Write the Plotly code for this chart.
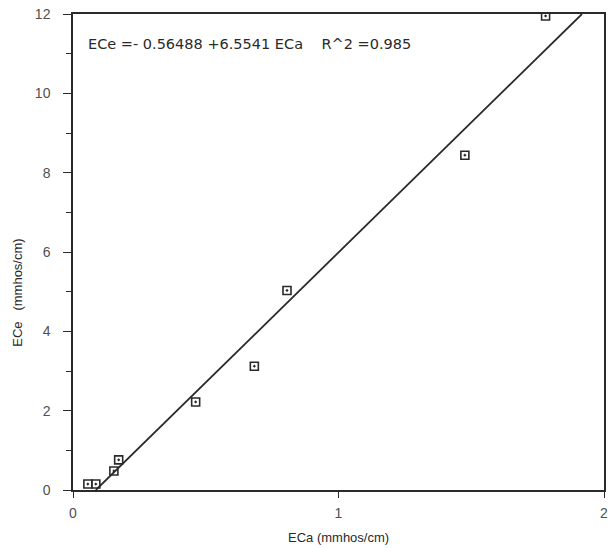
import plotly.graph_objects as go

# Data
eca = [0.056, 0.086, 0.154, 0.172, 0.462, 0.683, 0.806, 1.476, 1.78]
ece = [0.15, 0.15, 0.48, 0.76, 2.22, 3.12, 5.03, 8.44, 11.95]

# Regression coefficients shown in the chart
intercept = -0.56488
slope = 6.5541
r2 = 0.985
y_line_range = [0, 12]

x_ticks = [0, 1, 2]
y_ticks = [0, 2, 4, 6, 8, 10, 12]
y_minor = [1, 3, 5, 7, 9, 11]

x_line = [(y - intercept) / slope for y in y_line_range]
y_line = [intercept + slope * x for x in x_line]

ink = "#2a2a2a"
tickc = "#505050"
font = dict(family="Liberation Sans, Arial, sans-serif", size=12, color=ink)

fig = go.Figure()
fig.add_trace(go.Scatter(x=x_line, y=y_line, mode="lines",
                         line=dict(color=ink, width=1.8), showlegend=False,
                         hoverinfo="skip"))
fig.add_trace(go.Scatter(x=eca, y=ece, mode="markers",
                         marker=dict(symbol="square-open-dot", size=8,
                                     color=ink, line=dict(width=1.6, color=ink)),
                         showlegend=False))

fig.update_layout(
    width=608, height=548,
    margin=dict(l=73, r=4, t=14, b=58),
    paper_bgcolor="white", plot_bgcolor="white",
    font=font,
    xaxis=dict(range=[0, 2], tickvals=x_ticks, ticks="outside", ticklen=6,
               tickcolor=ink, tickwidth=1.2, showline=True, linecolor=ink,
               linewidth=1.5, mirror=True, showgrid=False, zeroline=False,
               automargin=False, ticklabeloverflow="allow",
               ticklabelstandoff=3,
               tickfont=dict(size=14, color=tickc)),
    yaxis=dict(range=[0, 12], tickvals=y_ticks, ticks="outside",
               ticklen=8, tickcolor=ink, tickwidth=1.2, showline=True,
               linecolor=ink, linewidth=1.5, mirror=True, showgrid=False,
               zeroline=False, automargin=False, ticklabeloverflow="allow",
               ticklabelstandoff=10,
               tickfont=dict(size=14, color=tickc),
               minor=dict(tickvals=y_minor, ticks="outside",
                          ticklen=5, tickcolor=ink, showgrid=False)),
    annotations=[
        dict(text=f"ECe =- {abs(intercept):.5f} +{slope:.4f} ECa    R^2 ={r2:.3f}",
             xref="paper", yref="paper", x=0.025, y=0.936, xanchor="left",
             yanchor="middle", showarrow=False,
             font=dict(family="DejaVu Sans, sans-serif", size=14.5, color=ink)),
        dict(text="ECe   (mmhos/cm)", xref="paper", yref="paper",
             x=-0.105, y=0.415, xanchor="center", yanchor="middle",
             textangle=-90, showarrow=False, font=dict(size=13, color=ink)),
        dict(text="ECa (mmhos/cm)", xref="paper", yref="paper",
             x=0.5, y=-0.099, xanchor="center", yanchor="middle",
             showarrow=False, font=dict(size=13, color=ink)),
    ],
)

fig.write_html("out.html", config={"displayModeBar": False},
               post_script="document.body.style.margin='0';")
